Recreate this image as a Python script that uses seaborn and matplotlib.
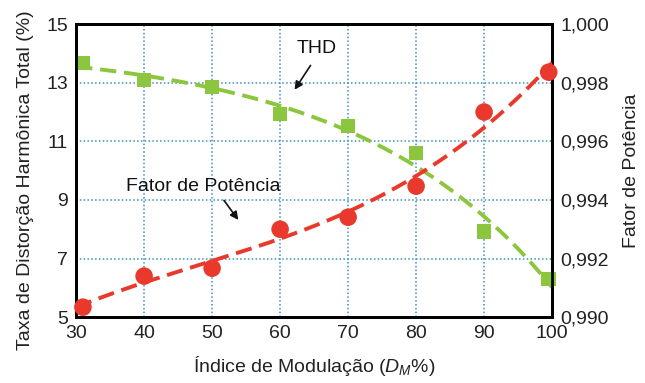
import numpy as np
import pandas as pd
import matplotlib
matplotlib.use("Agg")
import matplotlib.pyplot as plt
import seaborn as sns

# Modulation index (%) and measured values
dm_thd = [31, 40, 50, 60, 70, 80, 90, 99.5]
thd = [13.67, 13.09, 12.85, 11.93, 11.52, 10.60, 7.93, 6.30]

dm_pf = [31, 40, 50, 60, 70, 80, 90, 99.5]
pf = [0.99034, 0.99140, 0.99167, 0.99300, 0.99341, 0.99447, 0.99700, 0.99836]

x_ticks = [30, 40, 50, 60, 70, 80, 90, 100]
left_ticks = [5, 7, 9, 11, 13, 15]
right_ticks = [0.990, 0.992, 0.994, 0.996, 0.998, 1.000]

GREEN = "#8cc63e"
RED = "#e8392c"
FS = 14


def exp_trend(x, y, xs):
    """Least-squares fit of y = a + b*exp(c*x), scanning c."""
    x = np.asarray(x, float)
    y = np.asarray(y, float)
    best = None
    for c in np.linspace(0.001, 0.12, 600):
        A = np.column_stack([np.ones_like(x), np.exp(c * x)])
        coef, *_ = np.linalg.lstsq(A, y, rcond=None)
        sse = np.sum((A @ coef - y) ** 2)
        if best is None or sse < best[0]:
            best = (sse, c, coef)
    _, c, (a, b) = best
    return a + b * np.exp(c * xs)


sns.set_theme(style="white")
plt.rcParams["font.family"] = ["Liberation Sans", "DejaVu Sans"]
plt.rcParams["mathtext.fontset"] = "custom"
plt.rcParams["mathtext.it"] = "Liberation Sans:italic"
plt.rcParams["mathtext.rm"] = "Liberation Sans"

fig = plt.figure(figsize=(6.45, 3.83), dpi=100)
ax = fig.add_axes([0.118, 0.172, 0.738, 0.765])
ax2 = ax.twinx()

df_thd = pd.DataFrame({"dm": dm_thd, "thd": thd})
df_pf = pd.DataFrame({"dm": dm_pf, "pf": pf})

# trend curves fitted to the measurements
xs = np.linspace(30, 100, 200)
thd_fit = exp_trend(dm_thd, thd, xs)
pf_fit = np.polyval(np.polyfit(dm_pf, pf, 3), xs)

sns.lineplot(x=xs, y=thd_fit, ax=ax, color=GREEN, lw=2.8, dashes=(4.2, 2.0), zorder=3)
sns.scatterplot(data=df_thd, x="dm", y="thd", ax=ax, color=GREEN, marker="s",
                s=110, edgecolor="none", zorder=4, clip_on=False)

sns.lineplot(x=xs, y=pf_fit, ax=ax2, color=RED, lw=2.8, dashes=(4.2, 2.0), zorder=3)
sns.scatterplot(data=df_pf, x="dm", y="pf", ax=ax2, color=RED, marker="o",
                s=160, edgecolor="none", zorder=4, clip_on=False)

ax.set_xlim(30, 100)
ax.set_ylim(5, 15)
ax2.set_ylim(0.990, 1.000)
ax.set_xticks(x_ticks)
ax.set_yticks(left_ticks)
ax2.set_yticks(right_ticks)
ax2.set_yticklabels([f"{v:.3f}".replace(".", ",") for v in right_ticks])

for a in (ax, ax2):
    a.tick_params(axis="both", length=0, labelsize=FS, colors="#222222", pad=6)
    for s in a.spines.values():
        s.set_visible(True)
        s.set_color("black")
        s.set_linewidth(2)

ax.grid(True, color="#3a8fc0", linestyle=(0, (1, 1.5)), linewidth=1.1)
ax2.grid(False)
ax.set_axisbelow(True)

ax.set_xlabel("Índice de Modulação ($D_M$%)", fontsize=FS, color="#222222", labelpad=8)
ax.set_ylabel("Taxa de Distorção Harmônica Total (%)", fontsize=FS, color="#222222")
ax.yaxis.set_label_coords(-0.088, 0.468)
ax2.set_ylabel("Fator de Potência", fontsize=FS, color="#222222", labelpad=10)

ax.text(65.4, 14.18, "THD", fontsize=FS, ha="center", va="center", color="#111111")
ax.annotate("", xy=(61.9, 12.68), xytext=(64.7, 13.67),
            arrowprops=dict(arrowstyle="-|>", color="#111111", lw=1.2, mutation_scale=12))
ax.text(48.75, 9.47, "Fator de Potência", fontsize=FS, ha="center", va="center", color="#111111")
ax.annotate("", xy=(54.1, 8.24), xytext=(51.5, 9.06),
            arrowprops=dict(arrowstyle="-|>", color="#111111", lw=1.2, mutation_scale=12))

fig.savefig("out.png", dpi=100)
